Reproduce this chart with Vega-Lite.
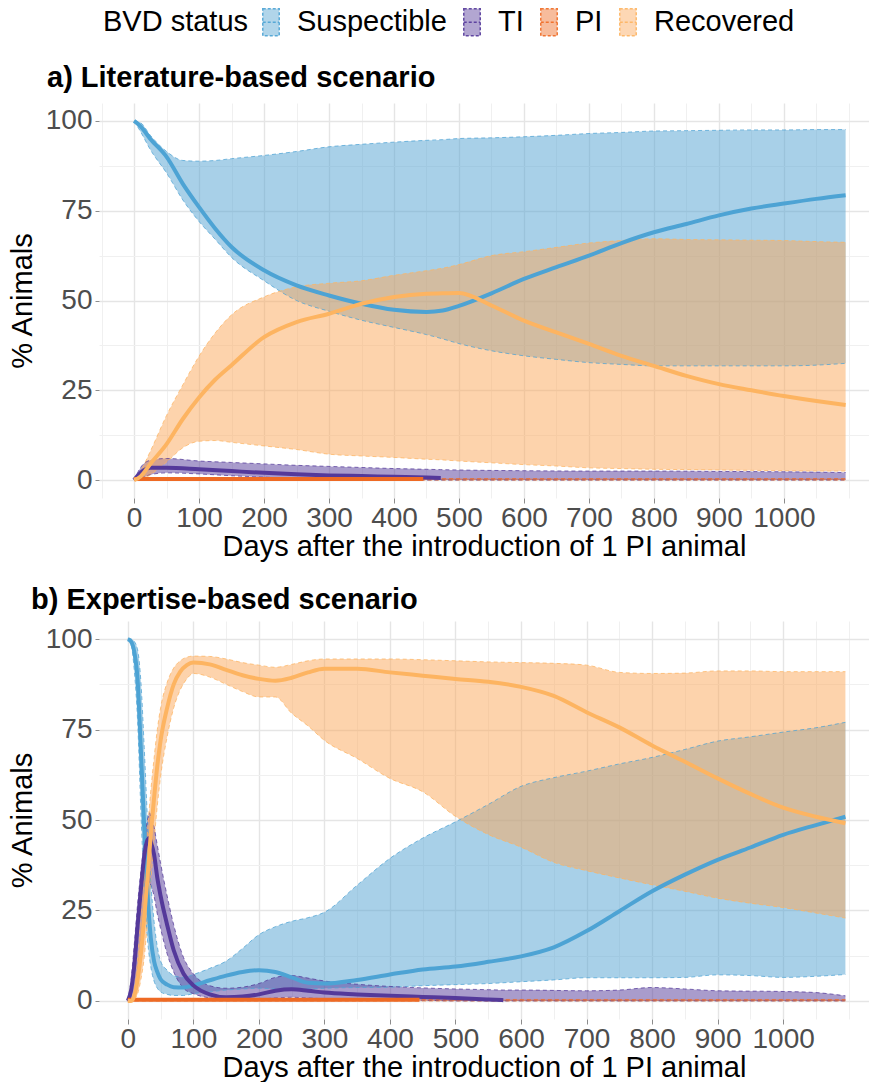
{
  "$schema": "https://vega.github.io/schema/vega-lite/v6.json",
  "padding": {"left": 8, "top": 6, "right": 0, "bottom": 0},
  "config": {
    "font": "Liberation Sans",
    "view": {"stroke": null},
    "axis": {"labelFontSize": 28, "labelColor": "#4D4D4D", "titleFontSize": 29, "titleFontWeight": "normal", "titleColor": "#000000", "domain": false, "tickColor": "#8C8C8C", "labelFlush": false, "labelOverlap": false, "format": "d"},
    "title": {"fontSize": 29, "fontWeight": "bold", "anchor": "start", "frame": "group", "color": "#000000"},
    "concat": {"spacing": 25}
  },
  "datasets": {
    "d": [
      {"p":"a","s":"Suspectible","d":0,"m":100,"lo":100,"hi":100},
      {"p":"a","s":"Suspectible","d":10,"m":98.5,"lo":97,"hi":99.5},
      {"p":"a","s":"Suspectible","d":25,"m":95,"lo":92,"hi":96},
      {"p":"a","s":"Suspectible","d":50,"m":90,"lo":85.5,"hi":91.5},
      {"p":"a","s":"Suspectible","d":75,"m":82.5,"lo":78,"hi":89},
      {"p":"a","s":"Suspectible","d":100,"m":76,"lo":72,"hi":88.8},
      {"p":"a","s":"Suspectible","d":125,"m":70,"lo":67,"hi":89},
      {"p":"a","s":"Suspectible","d":150,"m":64.9,"lo":62,"hi":89.5},
      {"p":"a","s":"Suspectible","d":200,"m":58.4,"lo":55.5,"hi":90.4},
      {"p":"a","s":"Suspectible","d":250,"m":54.2,"lo":50,"hi":91.5},
      {"p":"a","s":"Suspectible","d":300,"m":51.4,"lo":47,"hi":92.8},
      {"p":"a","s":"Suspectible","d":350,"m":49.1,"lo":44.5,"hi":93.5},
      {"p":"a","s":"Suspectible","d":400,"m":47.4,"lo":42.5,"hi":94.1},
      {"p":"a","s":"Suspectible","d":450,"m":46.8,"lo":40.5,"hi":94.6},
      {"p":"a","s":"Suspectible","d":475,"m":47.2,"lo":39.3,"hi":94.8},
      {"p":"a","s":"Suspectible","d":500,"m":48.5,"lo":38,"hi":95.1},
      {"p":"a","s":"Suspectible","d":550,"m":52,"lo":36,"hi":95.3},
      {"p":"a","s":"Suspectible","d":600,"m":56,"lo":34.6,"hi":95.6},
      {"p":"a","s":"Suspectible","d":650,"m":59.3,"lo":33.6,"hi":96},
      {"p":"a","s":"Suspectible","d":700,"m":62.5,"lo":32.7,"hi":96.5},
      {"p":"a","s":"Suspectible","d":750,"m":66,"lo":32.2,"hi":96.8},
      {"p":"a","s":"Suspectible","d":800,"m":69,"lo":31.8,"hi":97.2},
      {"p":"a","s":"Suspectible","d":850,"m":71.3,"lo":31.8,"hi":97.3},
      {"p":"a","s":"Suspectible","d":900,"m":73.7,"lo":31.8,"hi":97.4},
      {"p":"a","s":"Suspectible","d":950,"m":75.6,"lo":31.8,"hi":97.5},
      {"p":"a","s":"Suspectible","d":1000,"m":77,"lo":31.8,"hi":97.5},
      {"p":"a","s":"Suspectible","d":1050,"m":78.3,"lo":32,"hi":97.6},
      {"p":"a","s":"Suspectible","d":1095,"m":79.3,"lo":32.5,"hi":97.6},

      {"p":"a","s":"TI","d":0,"m":0,"lo":0,"hi":0},
      {"p":"a","s":"TI","d":10,"m":2,"lo":0.5,"hi":3.5},
      {"p":"a","s":"TI","d":25,"m":3.4,"lo":1.5,"hi":5.5},
      {"p":"a","s":"TI","d":50,"m":3.4,"lo":2,"hi":6},
      {"p":"a","s":"TI","d":100,"m":3,"lo":1.7,"hi":5.3},
      {"p":"a","s":"TI","d":150,"m":2.5,"lo":1.2,"hi":4.9},
      {"p":"a","s":"TI","d":200,"m":2,"lo":0.8,"hi":4.5},
      {"p":"a","s":"TI","d":250,"m":1.6,"lo":0.5,"hi":4.1},
      {"p":"a","s":"TI","d":300,"m":1.3,"lo":0.3,"hi":3.8},
      {"p":"a","s":"TI","d":350,"m":1.1,"lo":0.2,"hi":3.5},
      {"p":"a","s":"TI","d":400,"m":0.9,"lo":0,"hi":3.2},
      {"p":"a","s":"TI","d":450,"m":0.7,"lo":0,"hi":3},
      {"p":"a","s":"TI","d":472,"m":0.6,"lo":0,"hi":2.9},
      {"p":"a","s":"TI","d":500,"m":null,"lo":0,"hi":2.8},
      {"p":"a","s":"TI","d":600,"m":null,"lo":0,"hi":2.6},
      {"p":"a","s":"TI","d":700,"m":null,"lo":0,"hi":2.5},
      {"p":"a","s":"TI","d":800,"m":null,"lo":0,"hi":2.5},
      {"p":"a","s":"TI","d":900,"m":null,"lo":0,"hi":2.4},
      {"p":"a","s":"TI","d":1000,"m":null,"lo":0,"hi":2.3},
      {"p":"a","s":"TI","d":1095,"m":null,"lo":0,"hi":2.1},

      {"p":"a","s":"PI","d":0,"m":0.3,"lo":0,"hi":0.4},
      {"p":"a","s":"PI","d":445,"m":0.3,"lo":0,"hi":0.4},
      {"p":"a","s":"PI","d":446,"m":null,"lo":0,"hi":0.4},
      {"p":"a","s":"PI","d":1095,"m":null,"lo":0,"hi":0.4},

      {"p":"a","s":"Recovered","d":0,"m":0,"lo":0,"hi":0},
      {"p":"a","s":"Recovered","d":10,"m":1,"lo":0,"hi":2.5},
      {"p":"a","s":"Recovered","d":25,"m":4.5,"lo":1.5,"hi":8},
      {"p":"a","s":"Recovered","d":50,"m":10,"lo":5,"hi":18},
      {"p":"a","s":"Recovered","d":75,"m":17,"lo":9,"hi":26.5},
      {"p":"a","s":"Recovered","d":100,"m":23,"lo":10.8,"hi":34.5},
      {"p":"a","s":"Recovered","d":125,"m":28,"lo":11,"hi":41},
      {"p":"a","s":"Recovered","d":150,"m":32,"lo":10.5,"hi":46},
      {"p":"a","s":"Recovered","d":200,"m":39.8,"lo":9.5,"hi":51},
      {"p":"a","s":"Recovered","d":250,"m":44,"lo":8.5,"hi":53.8},
      {"p":"a","s":"Recovered","d":300,"m":46.3,"lo":7.2,"hi":54.8},
      {"p":"a","s":"Recovered","d":350,"m":49.1,"lo":6.7,"hi":55.5},
      {"p":"a","s":"Recovered","d":400,"m":51,"lo":6.3,"hi":57},
      {"p":"a","s":"Recovered","d":450,"m":51.9,"lo":5.8,"hi":58.3},
      {"p":"a","s":"Recovered","d":475,"m":52,"lo":5.6,"hi":59},
      {"p":"a","s":"Recovered","d":500,"m":52.1,"lo":5.3,"hi":60},
      {"p":"a","s":"Recovered","d":550,"m":48.6,"lo":4.8,"hi":62.5},
      {"p":"a","s":"Recovered","d":600,"m":44.4,"lo":4.3,"hi":63.6},
      {"p":"a","s":"Recovered","d":650,"m":41.1,"lo":3.9,"hi":64.8},
      {"p":"a","s":"Recovered","d":700,"m":37.9,"lo":3.4,"hi":66},
      {"p":"a","s":"Recovered","d":750,"m":34.6,"lo":3.2,"hi":66.7},
      {"p":"a","s":"Recovered","d":800,"m":31.8,"lo":3,"hi":67.2},
      {"p":"a","s":"Recovered","d":850,"m":29,"lo":2.9,"hi":67},
      {"p":"a","s":"Recovered","d":900,"m":26.7,"lo":2.8,"hi":66.9},
      {"p":"a","s":"Recovered","d":950,"m":25,"lo":2.7,"hi":66.8},
      {"p":"a","s":"Recovered","d":1000,"m":23.4,"lo":2.6,"hi":66.7},
      {"p":"a","s":"Recovered","d":1050,"m":22,"lo":2.5,"hi":66.4},
      {"p":"a","s":"Recovered","d":1095,"m":20.9,"lo":2.5,"hi":66.2},

      {"p":"b","s":"Suspectible","d":0,"m":100,"lo":100,"hi":100},
      {"p":"b","s":"Suspectible","d":5,"m":99.3,"lo":98.5,"hi":100},
      {"p":"b","s":"Suspectible","d":10,"m":96.3,"lo":91,"hi":99.3},
      {"p":"b","s":"Suspectible","d":15,"m":88.5,"lo":77,"hi":97},
      {"p":"b","s":"Suspectible","d":20,"m":69,"lo":52,"hi":88},
      {"p":"b","s":"Suspectible","d":25,"m":48,"lo":31,"hi":70},
      {"p":"b","s":"Suspectible","d":30,"m":30,"lo":17,"hi":50},
      {"p":"b","s":"Suspectible","d":35,"m":17.5,"lo":9.5,"hi":33},
      {"p":"b","s":"Suspectible","d":40,"m":11,"lo":5.5,"hi":22},
      {"p":"b","s":"Suspectible","d":45,"m":8,"lo":3.5,"hi":15},
      {"p":"b","s":"Suspectible","d":50,"m":6,"lo":2.5,"hi":11},
      {"p":"b","s":"Suspectible","d":60,"m":4.5,"lo":1.8,"hi":8.5},
      {"p":"b","s":"Suspectible","d":70,"m":3.8,"lo":1.5,"hi":7},
      {"p":"b","s":"Suspectible","d":85,"m":3.7,"lo":1.5,"hi":6.5},
      {"p":"b","s":"Suspectible","d":100,"m":4.3,"lo":2,"hi":7.3},
      {"p":"b","s":"Suspectible","d":125,"m":5.7,"lo":2.5,"hi":9},
      {"p":"b","s":"Suspectible","d":150,"m":7,"lo":3,"hi":11},
      {"p":"b","s":"Suspectible","d":175,"m":8,"lo":3.3,"hi":14.5},
      {"p":"b","s":"Suspectible","d":200,"m":8.5,"lo":3.5,"hi":18.3},
      {"p":"b","s":"Suspectible","d":225,"m":8,"lo":3.3,"hi":20.5},
      {"p":"b","s":"Suspectible","d":250,"m":6.5,"lo":3.2,"hi":22},
      {"p":"b","s":"Suspectible","d":275,"m":5,"lo":3.3,"hi":23},
      {"p":"b","s":"Suspectible","d":300,"m":4.8,"lo":3.5,"hi":24.5},
      {"p":"b","s":"Suspectible","d":350,"m":5.8,"lo":3.7,"hi":32},
      {"p":"b","s":"Suspectible","d":400,"m":7.3,"lo":3.8,"hi":39.4},
      {"p":"b","s":"Suspectible","d":450,"m":8.7,"lo":4.2,"hi":45},
      {"p":"b","s":"Suspectible","d":500,"m":9.5,"lo":4.5,"hi":49.5},
      {"p":"b","s":"Suspectible","d":550,"m":10.8,"lo":4.8,"hi":54.3},
      {"p":"b","s":"Suspectible","d":600,"m":12.3,"lo":5.3,"hi":59.3},
      {"p":"b","s":"Suspectible","d":650,"m":14.8,"lo":5.8,"hi":61.7},
      {"p":"b","s":"Suspectible","d":700,"m":19.3,"lo":6.4,"hi":63.5},
      {"p":"b","s":"Suspectible","d":750,"m":24.8,"lo":6.4,"hi":65.5},
      {"p":"b","s":"Suspectible","d":800,"m":30.3,"lo":6.4,"hi":67.3},
      {"p":"b","s":"Suspectible","d":850,"m":34.9,"lo":6.5,"hi":69.5},
      {"p":"b","s":"Suspectible","d":900,"m":39,"lo":7.2,"hi":71.8},
      {"p":"b","s":"Suspectible","d":950,"m":42.4,"lo":7,"hi":73},
      {"p":"b","s":"Suspectible","d":1000,"m":45.9,"lo":6.5,"hi":74.3},
      {"p":"b","s":"Suspectible","d":1050,"m":48.6,"lo":6.8,"hi":75.5},
      {"p":"b","s":"Suspectible","d":1095,"m":50.9,"lo":7.3,"hi":77},

      {"p":"b","s":"TI","d":0,"m":0,"lo":0,"hi":0},
      {"p":"b","s":"TI","d":5,"m":3,"lo":0.5,"hi":6},
      {"p":"b","s":"TI","d":10,"m":10,"lo":2,"hi":16},
      {"p":"b","s":"TI","d":15,"m":21,"lo":8,"hi":27},
      {"p":"b","s":"TI","d":20,"m":31,"lo":16,"hi":36},
      {"p":"b","s":"TI","d":25,"m":40,"lo":24,"hi":44},
      {"p":"b","s":"TI","d":30,"m":44.5,"lo":31,"hi":50},
      {"p":"b","s":"TI","d":33,"m":45,"lo":33,"hi":52},
      {"p":"b","s":"TI","d":35,"m":44,"lo":32,"hi":51},
      {"p":"b","s":"TI","d":40,"m":40.5,"lo":29,"hi":48},
      {"p":"b","s":"TI","d":45,"m":34,"lo":24,"hi":43},
      {"p":"b","s":"TI","d":50,"m":29,"lo":20,"hi":38},
      {"p":"b","s":"TI","d":60,"m":21,"lo":13,"hi":29},
      {"p":"b","s":"TI","d":70,"m":14,"lo":8,"hi":21},
      {"p":"b","s":"TI","d":85,"m":7.5,"lo":3.5,"hi":12},
      {"p":"b","s":"TI","d":100,"m":4.3,"lo":2,"hi":7.5},
      {"p":"b","s":"TI","d":125,"m":1.8,"lo":0.8,"hi":4.2},
      {"p":"b","s":"TI","d":150,"m":1,"lo":0.3,"hi":3.5},
      {"p":"b","s":"TI","d":175,"m":1.2,"lo":0.4,"hi":3.8},
      {"p":"b","s":"TI","d":200,"m":1.8,"lo":0.5,"hi":4.8},
      {"p":"b","s":"TI","d":225,"m":2.8,"lo":0.8,"hi":6.5},
      {"p":"b","s":"TI","d":250,"m":3.2,"lo":1,"hi":7},
      {"p":"b","s":"TI","d":275,"m":2.8,"lo":0.8,"hi":6.3},
      {"p":"b","s":"TI","d":300,"m":2.3,"lo":0.6,"hi":5.5},
      {"p":"b","s":"TI","d":350,"m":1.8,"lo":0.4,"hi":4.6},
      {"p":"b","s":"TI","d":400,"m":1.4,"lo":0.3,"hi":4},
      {"p":"b","s":"TI","d":450,"m":1.1,"lo":0.2,"hi":3.6},
      {"p":"b","s":"TI","d":500,"m":0.8,"lo":0,"hi":3.3},
      {"p":"b","s":"TI","d":550,"m":0.4,"lo":0,"hi":3.1},
      {"p":"b","s":"TI","d":573,"m":0.2,"lo":0,"hi":3},
      {"p":"b","s":"TI","d":600,"m":null,"lo":0,"hi":3},
      {"p":"b","s":"TI","d":700,"m":null,"lo":0,"hi":2.8},
      {"p":"b","s":"TI","d":750,"m":null,"lo":0,"hi":3},
      {"p":"b","s":"TI","d":800,"m":null,"lo":0,"hi":3.7},
      {"p":"b","s":"TI","d":850,"m":null,"lo":0,"hi":3.3},
      {"p":"b","s":"TI","d":900,"m":null,"lo":0,"hi":2.8},
      {"p":"b","s":"TI","d":1000,"m":null,"lo":0,"hi":2.6},
      {"p":"b","s":"TI","d":1050,"m":null,"lo":0,"hi":2.3},
      {"p":"b","s":"TI","d":1095,"m":null,"lo":0,"hi":1.4},

      {"p":"b","s":"PI","d":0,"m":0.3,"lo":0,"hi":0.4},
      {"p":"b","s":"PI","d":445,"m":0.3,"lo":0,"hi":0.4},
      {"p":"b","s":"PI","d":446,"m":null,"lo":0,"hi":0.4},
      {"p":"b","s":"PI","d":1095,"m":null,"lo":0,"hi":0.4},

      {"p":"b","s":"Recovered","d":0,"m":0,"lo":0,"hi":0},
      {"p":"b","s":"Recovered","d":5,"m":0,"lo":0,"hi":0.5},
      {"p":"b","s":"Recovered","d":10,"m":1.5,"lo":0.5,"hi":4},
      {"p":"b","s":"Recovered","d":15,"m":6,"lo":2,"hi":12},
      {"p":"b","s":"Recovered","d":20,"m":13,"lo":6,"hi":24},
      {"p":"b","s":"Recovered","d":25,"m":23,"lo":12,"hi":36},
      {"p":"b","s":"Recovered","d":30,"m":34,"lo":22,"hi":47},
      {"p":"b","s":"Recovered","d":35,"m":46,"lo":33,"hi":58},
      {"p":"b","s":"Recovered","d":40,"m":56,"lo":44,"hi":67},
      {"p":"b","s":"Recovered","d":45,"m":65,"lo":54,"hi":75},
      {"p":"b","s":"Recovered","d":50,"m":72,"lo":62,"hi":81},
      {"p":"b","s":"Recovered","d":60,"m":81,"lo":73,"hi":88},
      {"p":"b","s":"Recovered","d":70,"m":87.5,"lo":81,"hi":92},
      {"p":"b","s":"Recovered","d":80,"m":91,"lo":86,"hi":94},
      {"p":"b","s":"Recovered","d":90,"m":92.8,"lo":89,"hi":95},
      {"p":"b","s":"Recovered","d":100,"m":93.5,"lo":90.5,"hi":95.3},
      {"p":"b","s":"Recovered","d":125,"m":93,"lo":89.5,"hi":95.2},
      {"p":"b","s":"Recovered","d":150,"m":91.5,"lo":87.5,"hi":94.5},
      {"p":"b","s":"Recovered","d":175,"m":90,"lo":85.5,"hi":93.5},
      {"p":"b","s":"Recovered","d":200,"m":89,"lo":84,"hi":92.8},
      {"p":"b","s":"Recovered","d":225,"m":88.5,"lo":84,"hi":92.2},
      {"p":"b","s":"Recovered","d":250,"m":89.3,"lo":79.5,"hi":93},
      {"p":"b","s":"Recovered","d":275,"m":90.8,"lo":76,"hi":94},
      {"p":"b","s":"Recovered","d":300,"m":91.8,"lo":72,"hi":94.5},
      {"p":"b","s":"Recovered","d":350,"m":91.8,"lo":67,"hi":94.5},
      {"p":"b","s":"Recovered","d":400,"m":90.8,"lo":61.5,"hi":94.5},
      {"p":"b","s":"Recovered","d":450,"m":89.9,"lo":57.8,"hi":94.3},
      {"p":"b","s":"Recovered","d":500,"m":89,"lo":51,"hi":94},
      {"p":"b","s":"Recovered","d":550,"m":88.2,"lo":46,"hi":93.7},
      {"p":"b","s":"Recovered","d":600,"m":86.8,"lo":42.5,"hi":93.5},
      {"p":"b","s":"Recovered","d":650,"m":84.3,"lo":38.3,"hi":93.3},
      {"p":"b","s":"Recovered","d":700,"m":79.8,"lo":36,"hi":92.8},
      {"p":"b","s":"Recovered","d":750,"m":75.6,"lo":34,"hi":90.8},
      {"p":"b","s":"Recovered","d":800,"m":70.6,"lo":32.1,"hi":90.5},
      {"p":"b","s":"Recovered","d":850,"m":66.1,"lo":30.3,"hi":90.6},
      {"p":"b","s":"Recovered","d":900,"m":61.5,"lo":28.4,"hi":91.2},
      {"p":"b","s":"Recovered","d":950,"m":57.2,"lo":27,"hi":91.2},
      {"p":"b","s":"Recovered","d":1000,"m":53.4,"lo":25.8,"hi":91},
      {"p":"b","s":"Recovered","d":1050,"m":50.9,"lo":24.3,"hi":91},
      {"p":"b","s":"Recovered","d":1095,"m":49.1,"lo":22.9,"hi":91}
    ]
  },
  "resolve": {"scale": {"fill": "shared", "stroke": "shared"}, "legend": {"fill": "shared", "stroke": "shared"}},
  "vconcat": [
    {
      "width": 770, "height": 395,
      "title": {"text": "a) Literature-based scenario", "dx": -52, "offset": 10},
      "data": {"name": "d"},
      "transform": [{"filter": "datum.p === 'a'"}],
      "layer": [
        {
          "mark": {"type": "area", "fillOpacity": 0.5, "interpolate": "monotone"},
          "encoding": {
            "x": {"field": "d", "type": "quantitative", "scale": {"domain": [-54, 1131], "nice": false, "zero": false},
                  "axis": {"values": [0,100,200,300,400,500,600,700,800,900,1000], "title": "Days after the introduction of 1 PI animal", "grid": true, "gridColor": "#E5E5E5", "gridWidth": 1.4, "tickSize": 5, "labelPadding": 1, "titlePadding": 0}},
            "y": {"field": "lo", "type": "quantitative", "scale": {"domain": [-5, 105], "nice": false, "zero": false},
                  "axis": {"values": [0,25,50,75,100], "title": "% Animals", "grid": true, "gridColor": "#E5E5E5", "gridWidth": 1.4, "tickSize": 4, "labelPadding": 3, "titlePadding": 8}},
            "y2": {"field": "hi"},
            "fill": {"field": "s", "type": "nominal", "scale": {"domain": ["Suspectible","TI","PI","Recovered"], "range": ["#51A1D1","#54399A","#EE6A24","#FBA759"]},
                     "legend": {"title": "BVD status", "orient": "none", "legendX": 4, "legendY": -97, "direction": "horizontal", "titleOrient": "left", "titleFontSize": 29, "titleFontWeight": "normal", "titleColor": "#000000", "labelFontSize": 29, "labelColor": "#000000", "symbolType": "M-0.55,-0.9H0.55V0.9H-0.55Z M-0.55,0H0.55", "symbolSize": 900, "symbolStrokeWidth": 1.5, "symbolDash": [3,2], "columnPadding": 9, "labelOffset": 10, "titlePadding": 6,
                                "encode": {"symbols": {"update": {"fillOpacity": {"value": 0.45}, "strokeOpacity": {"value": 0.9}}}}}}
          }
        },
        {
          "mark": {"type": "line", "strokeWidth": 1, "strokeDash": [4,3], "strokeOpacity": 0.75, "interpolate": "monotone"},
          "encoding": {
            "x": {"field": "d", "type": "quantitative", "axis": {"orient": "top", "values": [-50,50,150,250,350,450,550,650,750,850,950,1050,1100], "grid": true, "gridColor": "#F0F0F0", "gridWidth": 1, "labels": false, "ticks": false, "title": null}},
            "y": {"field": "lo", "type": "quantitative", "axis": {"orient": "right", "values": [12.5,37.5,62.5,87.5], "grid": true, "gridColor": "#F0F0F0", "gridWidth": 1, "labels": false, "ticks": false, "title": null}},
            "stroke": {"field": "s", "type": "nominal", "scale": {"domain": ["Suspectible","TI","PI","Recovered"], "range": ["#4DA3D4","#54399A","#EE6A24","#FDB461"]}, "legend": {"title": "BVD status"}}
          }
        },
        {
          "mark": {"type": "line", "strokeWidth": 1, "strokeDash": [4,3], "strokeOpacity": 0.75, "interpolate": "monotone"},
          "encoding": {
            "x": {"field": "d", "type": "quantitative", "axis": null},
            "y": {"field": "hi", "type": "quantitative", "axis": null},
            "stroke": {"field": "s", "type": "nominal", "legend": {"title": "BVD status"}}
          }
        },
        {
          "mark": {"type": "line", "strokeWidth": 4, "interpolate": "monotone"},
          "encoding": {
            "x": {"field": "d", "type": "quantitative", "axis": null},
            "y": {"field": "m", "type": "quantitative", "axis": null},
            "stroke": {"field": "s", "type": "nominal", "legend": {"title": "BVD status"}}
          }
        }
      ],
      "resolve": {"axis": {"x": "independent", "y": "independent"}}
    },
    {
      "width": 770, "height": 398,
      "title": {"text": "b) Expertise-based scenario", "dx": -68, "offset": 6},
      "data": {"name": "d"},
      "transform": [{"filter": "datum.p === 'b'"}],
      "layer": [
        {
          "mark": {"type": "area", "fillOpacity": 0.5, "interpolate": "monotone"},
          "encoding": {
            "x": {"field": "d", "type": "quantitative", "scale": {"domain": [-44, 1131], "nice": false, "zero": false},
                  "axis": {"values": [0,100,200,300,400,500,600,700,800,900,1000], "title": "Days after the introduction of 1 PI animal", "grid": true, "gridColor": "#E5E5E5", "gridWidth": 1.4, "tickSize": 5, "labelPadding": 1, "titlePadding": 0}},
            "y": {"field": "lo", "type": "quantitative", "scale": {"domain": [-5, 105], "nice": false, "zero": false},
                  "axis": {"values": [0,25,50,75,100], "title": "% Animals", "grid": true, "gridColor": "#E5E5E5", "gridWidth": 1.4, "tickSize": 4, "labelPadding": 3, "titlePadding": 8}},
            "y2": {"field": "hi"},
            "fill": {"field": "s", "type": "nominal", "legend": {"title": "BVD status"}}
          }
        },
        {
          "mark": {"type": "line", "strokeWidth": 1, "strokeDash": [4,3], "strokeOpacity": 0.75, "interpolate": "monotone"},
          "encoding": {
            "x": {"field": "d", "type": "quantitative", "axis": {"orient": "top", "values": [50,150,250,350,450,550,650,750,850,950,1050,1100], "grid": true, "gridColor": "#F0F0F0", "gridWidth": 1, "labels": false, "ticks": false, "title": null}},
            "y": {"field": "lo", "type": "quantitative", "axis": {"orient": "right", "values": [12.5,37.5,62.5,87.5], "grid": true, "gridColor": "#F0F0F0", "gridWidth": 1, "labels": false, "ticks": false, "title": null}},
            "stroke": {"field": "s", "type": "nominal", "legend": {"title": "BVD status"}}
          }
        },
        {
          "mark": {"type": "line", "strokeWidth": 1, "strokeDash": [4,3], "strokeOpacity": 0.75, "interpolate": "monotone"},
          "encoding": {
            "x": {"field": "d", "type": "quantitative", "axis": null},
            "y": {"field": "hi", "type": "quantitative", "axis": null},
            "stroke": {"field": "s", "type": "nominal", "legend": {"title": "BVD status"}}
          }
        },
        {
          "mark": {"type": "line", "strokeWidth": 4, "interpolate": "monotone"},
          "encoding": {
            "x": {"field": "d", "type": "quantitative", "axis": null},
            "y": {"field": "m", "type": "quantitative", "axis": null},
            "stroke": {"field": "s", "type": "nominal", "legend": {"title": "BVD status"}}
          }
        }
      ],
      "resolve": {"axis": {"x": "independent", "y": "independent"}}
    }
  ]
}
